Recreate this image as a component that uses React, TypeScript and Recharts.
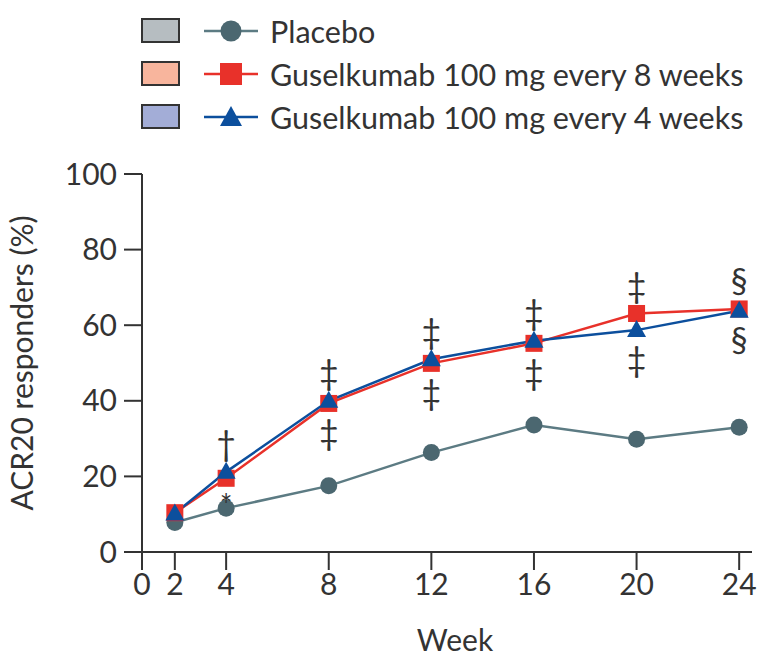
import { LineChart, Line, XAxis, YAxis, LabelList } from 'recharts'

const weeks = [2, 4, 8, 12, 16, 20, 24]
const placebo = [7.8, 11.6, 17.5, 26.3, 33.6, 29.8, 33.0]
const q8w = [10.4, 19.5, 39.3, 49.9, 55.2, 63.1, 64.3]
const q4w = [10.2, 21.2, 40.0, 51.0, 55.9, 58.7, 63.8]
const marksAbove = ['', '†', '‡', '‡', '‡', '‡', '§']
const marksBelow = ['', '*', '‡', '‡', '‡', '‡', '§']
const xTickLabels = [0, 2, 4, 8, 12, 16, 20, 24]
const yTicks = [0, 20, 40, 60, 80, 100]

// the week axis is broken between 0 and 2, so "0" sits where the axis starts
const AXIS_START = 0.72
const AXIS_END = 24.5

const FONT = 'Lato, "Open Sans", sans-serif'
const TEXT = '#333'
const GREY = '#4b6770'
const GREY_LINE = '#5c7b83'
const RED = '#e8312a'
const BLUE = '#0c4f9d'

const chartData = weeks.map((w, i) => ({
  week: w,
  placebo: placebo[i],
  q8w: q8w[i],
  q4w: q4w[i],
  hi: Math.max(q8w[i], q4w[i]),
  lo: Math.min(q8w[i], q4w[i]),
}))

const Circle = ({ cx, cy, key }: any) => <circle key={key} cx={cx} cy={cy} r={8.5} fill={GREY} />
const Square = ({ cx, cy, key }: any) => <rect key={key} x={cx - 8.5} y={cy - 8.5} width={17} height={17} fill={RED} />
const Triangle = ({ cx, cy, key }: any) => (
  <path key={key} d={`M${cx},${cy - 10} L${cx + 9.5},${cy + 7} L${cx - 9.5},${cy + 7} Z`} fill={BLUE} />
)

function mark(list: string[], dy: number) {
  return (p: any) => {
    const s = list[p.index]
    if (!s) return null
    const small = s === '*'
    return (
      <text
        x={p.x}
        y={p.y + dy + (small ? -2 : 0)}
        textAnchor="middle"
        dominantBaseline="central"
        fontFamily={FONT}
        fontSize={small ? 30 : 34}
        fill={TEXT}
      >
        {s}
      </text>
    )
  }
}

function LegendRow({ box, shape, label }: { box: string; shape: any; label: string }) {
  return (
    <div style={{ display: 'flex', alignItems: 'center', height: 43 }}>
      <div style={{ width: 35, height: 21, background: box, border: '2.5px solid #333', marginLeft: 141 }} />
      <svg width={54} height={30} style={{ marginLeft: 24 }}>
        {shape}
      </svg>
      <span style={{ marginLeft: 12, fontSize: 30.5, color: TEXT, fontFamily: FONT, lineHeight: '30px' }}>{label}</span>
    </div>
  )
}

export default function App() {
  return (
    <div style={{ position: 'absolute', left: 0, top: 0, width: 764, height: 657, background: '#fff' }}>
      <div style={{ position: 'absolute', left: 0, top: 9 }}>
        <LegendRow
          box="#b6bdc1"
          label="Placebo"
          shape={
            <g>
              <line x1={0} y1={15} x2={54} y2={15} stroke={GREY_LINE} strokeWidth={2.5} />
              <circle cx={27} cy={15} r={10.5} fill={GREY} />
            </g>
          }
        />
        <LegendRow
          box="#f8b59d"
          label="Guselkumab 100 mg every 8 weeks"
          shape={
            <g>
              <line x1={0} y1={15} x2={54} y2={15} stroke={RED} strokeWidth={2.5} />
              <rect x={16} y={4} width={22} height={22} fill={RED} />
            </g>
          }
        />
        <LegendRow
          box="#a3add7"
          label="Guselkumab 100 mg every 4 weeks"
          shape={
            <g>
              <line x1={0} y1={15} x2={54} y2={15} stroke={BLUE} strokeWidth={2.5} />
              <path d="M27,4 L38,24 L16,24 Z" fill={BLUE} />
            </g>
          }
        />
      </div>
      <LineChart
        width={764}
        height={657}
        data={chartData}
        margin={{ top: 174, right: 12, bottom: 0, left: 0 }}
        style={{ position: 'absolute', left: 0, top: 0 }}
      >
        <XAxis
          dataKey="week"
          type="number"
          domain={[AXIS_START, AXIS_END]}
          ticks={xTickLabels.map((t) => (t === 0 ? AXIS_START : t))}
          tickFormatter={(v: number) => (v === AXIS_START ? '0' : String(v))}
          height={105}
          tickSize={18}
          tickMargin={4}
          axisLine={{ stroke: '#333', strokeWidth: 2 }}
          tickLine={{ stroke: '#333', strokeWidth: 2 }}
          tick={{ fill: TEXT, fontSize: 30, fontFamily: FONT }}
          allowDataOverflow
          label={{ value: 'Week', position: 'insideBottom', offset: 6, dx: 8, fill: TEXT, fontSize: 30, fontFamily: FONT }}
        />
        <YAxis
          domain={[0, 100]}
          ticks={yTicks}
          width={142}
          tickSize={18}
          tickMargin={7}
          axisLine={{ stroke: '#333', strokeWidth: 2 }}
          tickLine={{ stroke: '#333', strokeWidth: 2 }}
          tick={{ fill: TEXT, fontSize: 30, fontFamily: FONT }}
          label={{
            value: 'ACR20 responders (%)',
            angle: -90,
            position: 'insideLeft',
            offset: 22,
            style: { textAnchor: 'middle', fill: TEXT, fontSize: 30, fontFamily: FONT },
          }}
        />
        <Line dataKey="placebo" stroke={GREY_LINE} strokeWidth={2.5} dot={<Circle />} activeDot={false} isAnimationActive={false} />
        <Line dataKey="q8w" stroke={RED} strokeWidth={2.5} dot={<Square />} activeDot={false} isAnimationActive={false} />
        <Line dataKey="q4w" stroke={BLUE} strokeWidth={2.5} dot={<Triangle />} activeDot={false} isAnimationActive={false} />
        <Line dataKey="hi" stroke="none" dot={false} activeDot={false} isAnimationActive={false}>
          <LabelList dataKey="hi" content={mark(marksAbove, -29)} />
        </Line>
        <Line dataKey="lo" stroke="none" dot={false} activeDot={false} isAnimationActive={false}>
          <LabelList dataKey="lo" content={mark(marksBelow, 28)} />
        </Line>
      </LineChart>
    </div>
  )
}
